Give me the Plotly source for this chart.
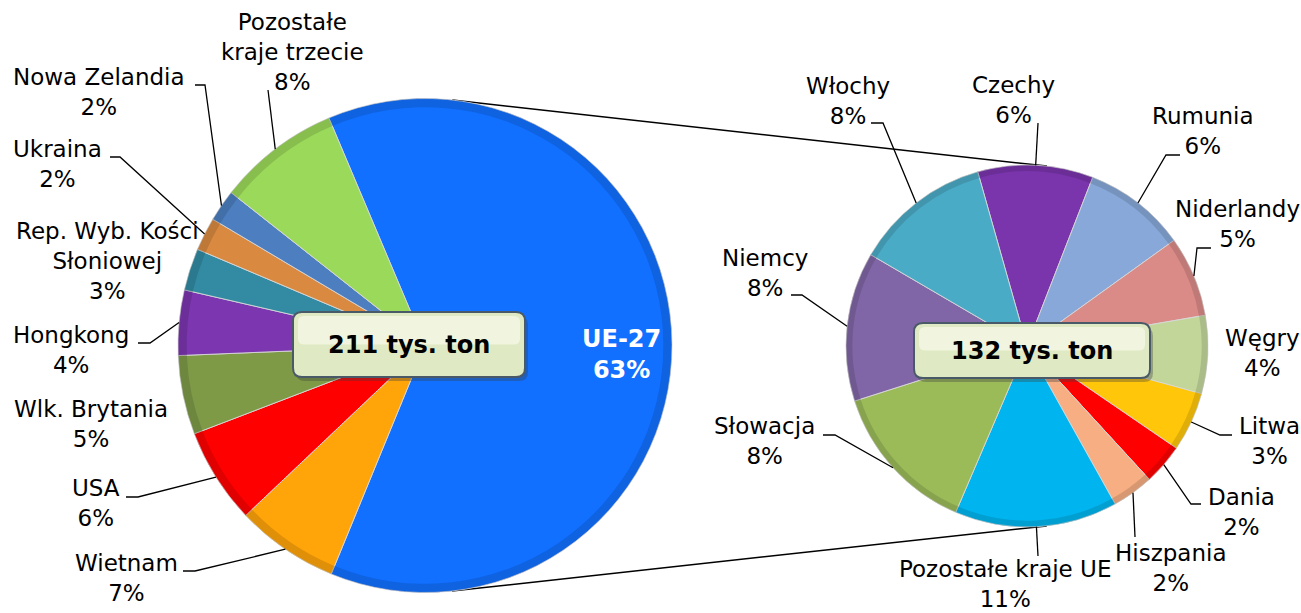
import math
import plotly.graph_objects as go

W, H = 1301, 613

# ---------------- data (tys. ton) ----------------
main_labels = ["UE-27", "Wietnam", "USA", "Wlk. Brytania", "Hongkong",
               "Rep. Wyb. Kości<br>Słoniowej", "Ukraina", "Nowa Zelandia",
               "Pozostałe<br>kraje trzecie"]
main_values = [132.0, 14.2, 13.2, 10.9, 9.0, 5.8, 4.6, 4.4, 16.9]
main_pct = ["63%", "7%", "6%", "5%", "4%", "3%", "2%", "2%", "8%"]
main_colors = ["#1170ff", "#ffa50a", "#ff0000", "#7e9a47", "#7b36b0",
               "#328ba3", "#d98940", "#4d7fc0", "#9bd95a"]
main_total = "211 tys. ton"

eu_labels = ["Czechy", "Rumunia", "Niderlandy", "Węgry", "Litwa", "Dania",
             "Hiszpania", "Pozostałe kraje UE", "Słowacja", "Niemcy", "Włochy"]
eu_values = [13.6, 12.1, 9.5, 9.2, 7.0, 4.8, 4.9, 19.2, 18.0, 17.6, 16.1]
eu_pct = ["6%", "6%", "5%", "4%", "3%", "2%", "2%", "11%", "8%", "8%", "8%"]
eu_colors = ["#7a35ad", "#87a8d8", "#da8a87", "#c2d69a", "#ffc60a", "#ff0000",
             "#f6ae82", "#00b5ef", "#9bbb59", "#8066a6", "#4aabc6"]
eu_total = "132 tys. ton"

# ---------------- layout (pixels) ----------------
main_box = (178, 98, 672, 593)      # pie bounding square x0, y0, x1, y1
eu_box = (846, 165, 1208, 527)
main_rotation = -22.9
eu_rotation = -15.8

main_label_pos = [(621, 354), (126, 578), (96, 503), (91, 424), (71, 350),
                  (107, 261), (57, 164), (99, 92), (292, 52)]
main_leader = [None, [(183, 571), (195, 571)], [(126, 497), (138, 497)], None,
               [(138, 343), (150, 343)], None, [(110, 157), (120, 157)],
               [(195, 85), (205, 85)], [(268, 90)]]

eu_label_pos = [(1013, 100), (1203, 131), (1237, 224), (1262, 353), (1269, 441),
                (1241, 512), (1171, 568), (1005, 584), (764, 441), (765, 273),
                (848, 101)]
eu_leader = [[(1038, 123)], [(1180, 155), (1166, 155)], [(1211, 248), (1197, 248)],
             None, [(1232, 435), (1220, 435)], [(1201, 504), (1191, 504)],
             [(1135, 537)], [(1038, 556)], [(823, 435), (835, 435)],
             [(791, 295), (802, 295)], [(871, 123), (883, 123)]]

FONT = "DejaVu Sans"
FS = 23


def px(x):
    return x / W


def py(y):
    return 1 - y / H


def geom(box):
    x0, y0, x1, y1 = box
    return (x0 + x1) / 2, (y0 + y1) / 2, min(x1 - x0, y1 - y0) / 2


def mid_points(values, rotation, box, k=1.0):
    cx, cy, r = geom(box)
    tot = sum(values)
    pts = []
    cum = 0
    for v in values:
        a = math.radians(rotation + 360 * (cum + v / 2) / tot)
        pts.append((cx + k * r * math.sin(a), cy - k * r * math.cos(a)))
        cum += v
    return pts


def darker(hexc, f=0.65, a=0.35):
    h = hexc.lstrip("#")
    r, g, b = int(h[0:2], 16), int(h[2:4], 16), int(h[4:6], 16)
    return f"rgba({int(r*f)},{int(g*f)},{int(b*f)},{a})"


fig = go.Figure()


def add_pie(values, labels, colors, rotation, box):
    x0, y0, x1, y1 = box
    dom = dict(x=[px(x0), px(x1)], y=[py(y1), py(y0)])
    fig.add_trace(go.Pie(values=values, labels=labels, sort=False,
                         direction="clockwise", rotation=rotation,
                         textinfo="none", hoverinfo="label+value",
                         marker=dict(colors=colors,
                                     line=dict(color="rgba(215,215,215,0.9)", width=1)),
                         domain=dom, showlegend=False))
    # darker outer rim to suggest the bevel
    fig.add_trace(go.Pie(values=values, labels=labels, sort=False,
                         direction="clockwise", rotation=rotation, hole=0.965,
                         textinfo="none", hoverinfo="skip",
                         marker=dict(colors=[darker(c) for c in colors],
                                     line=dict(width=0)),
                         domain=dom, showlegend=False))


add_pie(main_values, main_labels, main_colors, main_rotation, main_box)
add_pie(eu_values, eu_labels, eu_colors, eu_rotation, eu_box)

shapes = []
annotations = []

# series lines: external tangents between the two pies
c1x, c1y, r1 = geom(main_box)
c2x, c2y, r2 = geom(eu_box)
dx, dy = c2x - c1x, c2y - c1y
d = math.hypot(dx, dy)
base = math.atan2(dy, dx)
off = math.acos((r1 - r2) / d)
for sgn in (-1, 1):
    a = base + sgn * off
    nx, ny = math.cos(a), math.sin(a)
    shapes.append(dict(type="line", xref="paper", yref="paper",
                       x0=px(c1x + r1 * nx), y0=py(c1y + r1 * ny),
                       x1=px(c2x + r2 * nx), y1=py(c2y + r2 * ny),
                       line=dict(color="black", width=1.5), layer="below"))


def add_labels(labels, pct, pos, leaders, values, rotation, box, skip_first=False):
    ends = mid_points(values, rotation, box, 1.0)
    for i, (lab, p, (lx, ly), ld) in enumerate(zip(labels, pct, pos, leaders)):
        if skip_first and i == 0:
            continue
        annotations.append(dict(xref="paper", yref="paper", x=px(lx), y=py(ly),
                                xanchor="center", yanchor="middle", align="center",
                                text=f"{lab}<br>{p}", showarrow=False,
                                font=dict(family=FONT, size=FS, color="black")))
        if ld:
            pts = list(ld) + [ends[i]]
            path = "M " + " L ".join(f"{px(x):.5f},{py(y):.5f}" for x, y in pts)
            shapes.append(dict(type="path", xref="paper", yref="paper", path=path,
                               line=dict(color="black", width=1.3)))


add_labels(main_labels, main_pct, main_label_pos, main_leader, main_values,
           main_rotation, main_box, skip_first=True)
add_labels(eu_labels, eu_pct, eu_label_pos, eu_leader, eu_values,
           eu_rotation, eu_box)

# UE-27 label inside the big slice
annotations.append(dict(xref="paper", yref="paper", x=px(main_label_pos[0][0]),
                        y=py(main_label_pos[0][1]), xanchor="center", yanchor="middle",
                        text=f"<b>{main_labels[0]}<br>{main_pct[0]}</b>",
                        showarrow=False,
                        font=dict(family=FONT, size=FS + 1, color="white")))


def rounded_box(x0, y0, x1, y1, rad):
    rx, ry = rad / W, rad / H
    X0, X1, Y0, Y1 = px(x0), px(x1), py(y1), py(y0)
    return (f"M {X0+rx},{Y0} L {X1-rx},{Y0} Q {X1},{Y0} {X1},{Y0+ry} "
            f"L {X1},{Y1-ry} Q {X1},{Y1} {X1-rx},{Y1} L {X0+rx},{Y1} "
            f"Q {X0},{Y1} {X0},{Y1-ry} L {X0},{Y0+ry} Q {X0},{Y0} {X0+rx},{Y0} Z")


total_boxes = [((293, 312, 525, 377), main_total), ((914, 323, 1150, 378), eu_total)]
for (x0, y0, x1, y1), txt in total_boxes:
    shapes.append(dict(type="path", xref="paper", yref="paper",
                       path=rounded_box(x0 + 3, y0 + 4, x1 + 3, y1 + 4, 9),
                       fillcolor="rgba(60,60,60,0.35)", line=dict(width=0)))
    shapes.append(dict(type="path", xref="paper", yref="paper",
                       path=rounded_box(x0, y0, x1, y1, 9),
                       fillcolor="#dfe9c3", line=dict(color="#4a5968", width=2)))
    shapes.append(dict(type="path", xref="paper", yref="paper",
                       path=rounded_box(x0 + 5, y0 + 4, x1 - 5, (y0 + y1) / 2, 6),
                       fillcolor="rgba(255,255,245,0.55)", line=dict(width=0)))
    annotations.append(dict(xref="paper", yref="paper", x=px((x0 + x1) / 2),
                            y=py((y0 + y1) / 2), xanchor="center", yanchor="middle",
                            text=f"<b>{txt}</b>", showarrow=False,
                            font=dict(family=FONT, size=24, color="black")))

fig.update_layout(width=W, height=H, margin=dict(l=0, r=0, t=0, b=0),
                  paper_bgcolor="white", plot_bgcolor="white",
                  shapes=shapes, annotations=annotations)

fig.write_html("out.html", config={"displayModeBar": False},
               post_script="document.body.style.margin='0';document.body.style.overflow='hidden';")
